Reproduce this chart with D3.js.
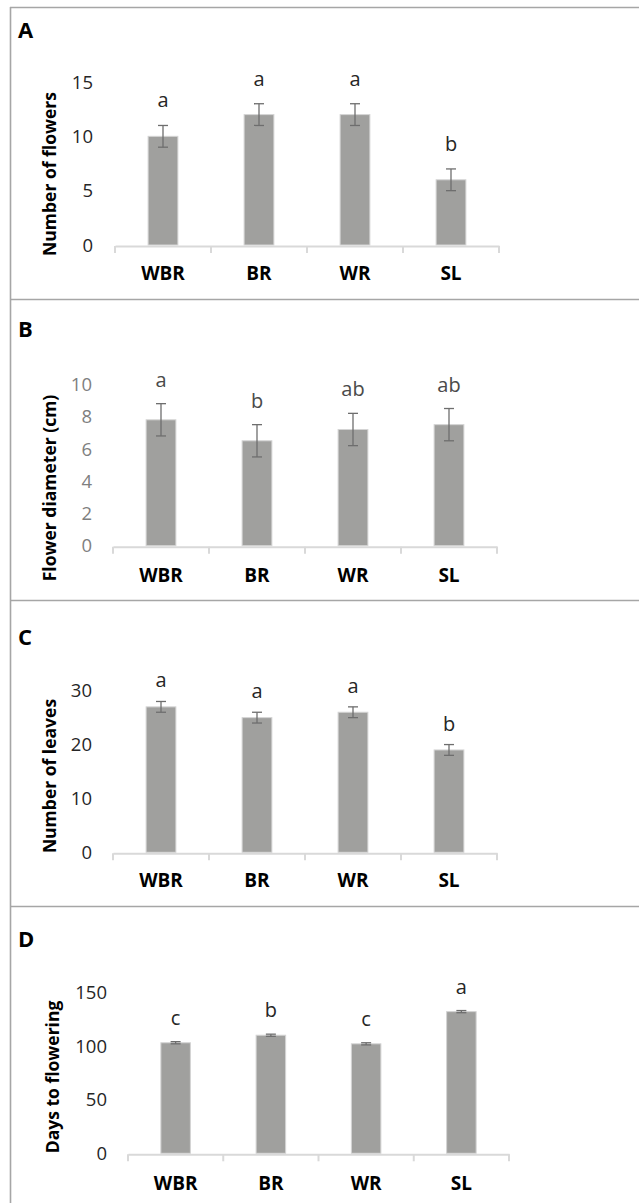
<!DOCTYPE html>
<html><head><meta charset="utf-8">
<script src="https://cdn.jsdelivr.net/npm/d3@7"></script>
<style>body{margin:0;background:#fff}svg{display:block}</style>
</head><body>
<svg id="c" width="639" height="1203"></svg>
<script>
const categories = ["WBR", "BR", "WR", "SL"];

const flowersMean = [10, 12, 12, 6];
const flowersErr = [1, 1, 1, 1];
const flowersLetters = ["a", "a", "a", "b"];
const flowersTicks = [0, 5, 10, 15];

const diameterMean = [7.8, 6.5, 7.2, 7.5];
const diameterErr = [1, 1, 1, 1];
const diameterLetters = ["a", "b", "ab", "ab"];
const diameterTicks = [0, 2, 4, 6, 8, 10];

const leavesMean = [27, 25, 26, 19];
const leavesErr = [1, 1, 1, 1];
const leavesLetters = ["a", "a", "a", "b"];
const leavesTicks = [0, 10, 20, 30];

const daysMean = [103, 110, 102, 132];
const daysErr = [1, 1, 1, 1];
const daysLetters = ["c", "b", "c", "a"];
const daysTicks = [0, 50, 100, 150];

const panels = [
  {tag:"A", title:"Number of flowers", mean:flowersMean, err:flowersErr, letters:flowersLetters, ticks:flowersTicks,
   x0:115, x1:499, base:245, top:82, tagY:38, catY:280, labX:50, labY:174, tickX:93, gap:18, tickColor:"#262626", letColor:"#262626"},
  {tag:"B", title:"Flower diameter (cm)", mean:diameterMean, err:diameterErr, letters:diameterLetters, ticks:diameterTicks,
   x0:113, x1:497, base:545.7, top:384.3, tagY:337, catY:581.5, labX:50, labY:488, tickX:92, gap:17, tickColor:"#7f7f7f", letColor:"#4a4a4a"},
  {tag:"C", title:"Number of leaves", mean:leavesMean, err:leavesErr, letters:leavesLetters, ticks:leavesTicks,
   x0:113, x1:497, base:852.3, top:690.7, tagY:645, catY:887, labX:50, labY:776, tickX:92, gap:14, tickColor:"#262626", letColor:"#262626"},
  {tag:"D", title:"Days to flowering", mean:daysMean, err:daysErr, letters:daysLetters, ticks:daysTicks,
   x0:128, x1:509, base:1153.3, top:992.3, tagY:947, catY:1190, labX:53, labY:1077, tickX:107, gap:17, tickColor:"#262626", letColor:"#262626"}
];

const svg = d3.select("#c");
const FONT = "'Open Sans', 'DejaVu Sans', sans-serif";

// frame lines
const frameY = [7.5, 299.5, 600.5, 906.5];
svg.selectAll("line.frame").data(frameY).enter().append("line")
  .attr("x1", 10).attr("x2", 639).attr("y1", d => d).attr("y2", d => d)
  .attr("stroke", "#a6a6a6").attr("stroke-width", 1.6);
svg.append("line").attr("x1", 10.5).attr("x2", 10.5).attr("y1", 7).attr("y2", 1203)
  .attr("stroke", "#a6a6a6").attr("stroke-width", 1.6);

panels.forEach(p => {
  const g = svg.append("g");
  const x = d3.scaleBand().domain(categories).range([p.x0, p.x1]).padding(0);
  const maxT = p.ticks[p.ticks.length - 1];
  const y = d3.scaleLinear().domain([0, maxT]).range([p.base, p.top]);
  const bw = x.bandwidth() * 0.31;
  const data = categories.map((c, i) => ({c, v: p.mean[i], e: p.err[i], l: p.letters[i]}));

  // tag
  g.append("text").attr("x", 18).attr("y", p.tagY).text(p.tag)
    .attr("font-family", FONT).attr("font-weight", 700).attr("font-size", 22).attr("fill", "#000");

  // y tick labels
  g.selectAll("text.yt").data(p.ticks).enter().append("text")
    .attr("x", p.tickX).attr("y", d => y(d)).attr("dy", "0.36em")
    .attr("text-anchor", "end").text(d => d)
    .attr("font-family", FONT).attr("font-size", 18.5).attr("fill", p.tickColor);

  // y label
  g.append("text").attr("transform", `translate(${p.labX},${p.labY}) rotate(-90)`)
    .attr("text-anchor", "middle").attr("dy", "0.35em").text(p.title)
    .attr("font-family", FONT).attr("font-weight", 700).attr("font-size", 17.5).attr("fill", "#000");

  // bars
  g.selectAll("rect.bar").data(data).enter().append("rect")
    .attr("x", d => x(d.c) + x.bandwidth() / 2 - bw / 2)
    .attr("width", bw)
    .attr("y", d => y(d.v))
    .attr("height", d => y(0) - y(d.v))
    .attr("fill", "#a0a09e").attr("stroke", "#d4d4d4").attr("stroke-width", 1);

  // x axis
  const ax = g.append("g").attr("transform", `translate(0,${p.base + 1})`)
    .call(d3.axisBottom(x).tickSize(0).tickFormat(""));
  ax.select(".domain").attr("stroke", "#d9d9d9").attr("stroke-width", 2);
  const bounds = categories.map(c => x(c)).concat([p.x1]);
  g.selectAll("line.xt").data(bounds).enter().append("line")
    .attr("x1", d => d).attr("x2", d => d).attr("y1", p.base + 1).attr("y2", p.base + 8)
    .attr("stroke", "#d9d9d9").attr("stroke-width", 2);

  // category labels
  g.selectAll("text.cat").data(categories).enter().append("text")
    .attr("x", d => x(d) + x.bandwidth() / 2).attr("y", p.catY)
    .attr("text-anchor", "middle").text(d => d)
    .attr("font-family", FONT).attr("font-weight", 700).attr("font-size", 19).attr("fill", "#000");

  // error bars
  const eb = g.selectAll("g.eb").data(data).enter().append("g")
    .attr("stroke", "#6e6e6e").attr("stroke-width", 1.3);
  eb.append("line").attr("x1", d => x(d.c) + x.bandwidth() / 2).attr("x2", d => x(d.c) + x.bandwidth() / 2)
    .attr("y1", d => y(d.v + d.e)).attr("y2", d => y(d.v - d.e));
  eb.append("line").attr("x1", d => x(d.c) + x.bandwidth() / 2 - 5).attr("x2", d => x(d.c) + x.bandwidth() / 2 + 5)
    .attr("y1", d => y(d.v + d.e)).attr("y2", d => y(d.v + d.e));
  eb.append("line").attr("x1", d => x(d.c) + x.bandwidth() / 2 - 5).attr("x2", d => x(d.c) + x.bandwidth() / 2 + 5)
    .attr("y1", d => y(d.v - d.e)).attr("y2", d => y(d.v - d.e));

  // letters
  g.selectAll("text.let").data(data).enter().append("text")
    .attr("x", d => x(d.c) + x.bandwidth() / 2).attr("y", d => y(d.v + d.e) - p.gap)
    .attr("text-anchor", "middle").text(d => d.l)
    .attr("font-family", FONT).attr("font-size", 20).attr("fill", p.letColor);
});
</script>
</body></html>
